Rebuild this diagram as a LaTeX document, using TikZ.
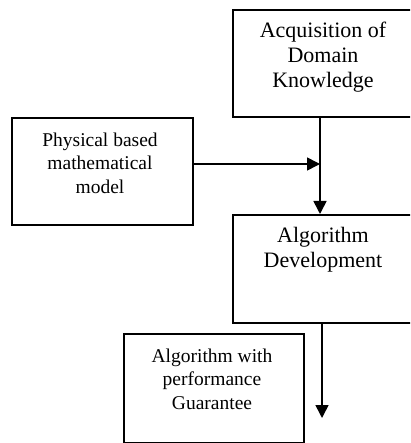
\documentclass[tikz,border=0pt]{standalone}
\usepackage{fontspec}
\setmainfont{Liberation Serif}
\usetikzlibrary{arrows.meta}
\begin{document}
\begin{tikzpicture}[x=1pt,y=-1pt,
  boxst/.style={draw=black,line width=1.6pt,rectangle,inner sep=0pt,anchor=north west},
  bigtxt/.style={align=center,font=\fontsize{22}{25}\selectfont,inner sep=0pt},
  smalltxt/.style={align=center,font=\fontsize{19.5}{23.5}\selectfont,inner sep=0pt},
  arr/.style={line width=1.6pt,-{Triangle[length=13pt,width=13pt]}}]
\clip (0,0) rectangle (410,443);
\fill[white] (0,0) rectangle (410,443);
% boxes
\node[boxst,minimum width=210pt,minimum height=107pt] (A) at (232,9) {};
\node[boxst,minimum width=181pt,minimum height=107pt] (P) at (11,117) {};
\node[boxst,minimum width=210pt,minimum height=108pt] (D) at (232,214) {};
\node[boxst,minimum width=180pt,minimum height=109pt] (G) at (123,333) {};
% texts
\node[bigtxt] (tA) at (323,57) {Acquisition of\\Domain\\Knowledge};
\node[smalltxt] (tP) at (100,163) {Physical based\\mathematical\\model};
\node[bigtxt] (tD) at (323,250) {Algorithm\\Development};
\node[smalltxt] (tG) at (212,379) {Algorithm with\\performance\\Guarantee};
% helper coordinates
\coordinate (colx) at (320,0);
\coordinate (coly) at (0,164);
\coordinate (colb) at (322,0);
\coordinate (bend) at (322,418);
% connectors
\draw[arr] (A.south -| colx) -- (D.north -| colx);
\draw[arr] (P.east |- coly) -- (coly -| colx);
\draw[arr] (D.south -| colb) -- (bend);
\end{tikzpicture}
\end{document}
